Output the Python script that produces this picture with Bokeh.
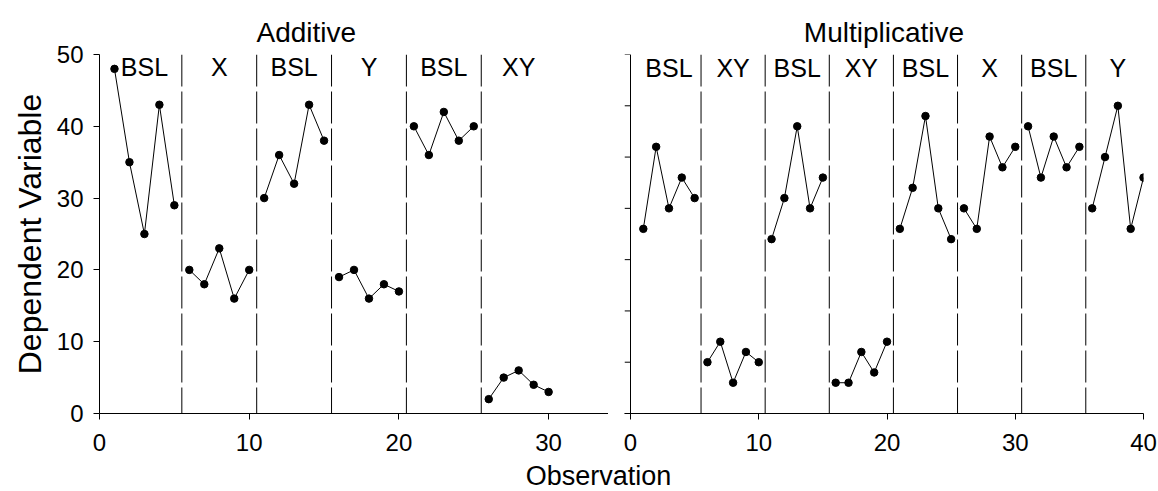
from bokeh.plotting import figure
from bokeh.layouts import row, column
from bokeh.models import Range1d, FixedTicker, Span, Label
from bokeh.embed import file_html
from bokeh.resources import INLINE
from bokeh.core.properties import value

FONT = "Liberation Sans"

# ---- data -------------------------------------------------------------
add_title = "Additive"
add_phases = ["BSL", "X", "BSL", "Y", "BSL", "XY"]
add_values = [
    [48, 35, 25, 43, 29],
    [20, 18, 23, 16, 20],
    [30, 36, 32, 43, 38],
    [19, 20, 16, 18, 17],
    [40, 36, 42, 38, 40],
    [2, 5, 6, 4, 3],
]
add_xticks = [0, 10, 20, 30]
add_yticks = [0, 10, 20, 30, 40, 50]

mult_title = "Multiplicative"
mult_phases = ["BSL", "XY", "BSL", "XY", "BSL", "X", "BSL", "Y"]
mult_values = [
    [18, 26, 20, 23, 21],
    [5, 7, 3, 6, 5],
    [17, 21, 28, 20, 23],
    [3, 3, 6, 4, 7],
    [18, 22, 29, 20, 17],
    [20, 18, 27, 24, 26],
    [28, 23, 27, 24, 26],
    [20, 25, 30, 18, 23],
]
mult_xticks = [0, 10, 20, 30, 40]
mult_yticks = [0, 5, 10, 15, 20, 25, 30, 35]

y_label = "Dependent Variable"
x_label = "Observation"

# ---- styling constants ------------------------------------------------
TICK_PX = 6
H = 452
B_TOP = 45
B_BOTTOM = 47


def style_axes(p, xticks, yticks):
    axes = [p.xaxis[0]] + ([p.yaxis[0]] if len(p.yaxis) else [])
    for ax in axes:
        ax.axis_line_color = "black"
        ax.axis_line_width = 1
        ax.major_tick_line_color = "black"
        ax.major_tick_out = TICK_PX
        ax.major_tick_in = 0
        ax.minor_tick_line_color = None
        ax.major_label_text_font = FONT
        ax.major_label_text_color = "black"
        ax.major_label_text_font_size = "24px"
        ax.major_label_standoff = 14
    p.xaxis[0].ticker = FixedTicker(ticks=xticks)
    if len(p.yaxis):
        p.yaxis[0].ticker = FixedTicker(ticks=yticks)
        p.yaxis[0].major_label_standoff = 10
    p.xgrid.grid_line_color = None
    p.ygrid.grid_line_color = None
    p.outline_line_color = None


def draw_phases(p, phases, values, label_y):
    start = 0
    centers = []
    for i, vals in enumerate(values):
        xs = [start + k + 1 for k in range(len(vals))]
        p.line(xs, vals, line_color="black", line_width=1)
        p.scatter(xs, vals, size=7.5, fill_color="black", line_color="black")
        centers.append(start + (len(vals) + 1) / 2)
        start += len(vals)
        if i < len(values) - 1:
            p.add_layout(Span(location=start + 0.5, dimension="height",
                              line_color="black", line_width=1,
                              line_dash="32 5"))
    p.text(x=centers, y=[label_y] * len(centers), text=phases,
           text_font=value(FONT), text_font_size="25px",
           text_align="center", text_baseline="middle",
           text_color="black")


def set_title(p, text):
    p.title.text = text
    p.title.text_font = FONT
    p.title.text_font_size = "28px"
    p.title.text_font_style = "normal"
    p.title.text_color = "black"
    p.title.standoff = 13


# ---- left panel: Additive --------------------------------------------
p1 = figure(width=600, height=H, output_backend="svg", toolbar_location=None,
            x_range=Range1d(0, 34), y_range=Range1d(0, max(add_yticks)),
            min_border_left=86, min_border_right=0, min_border_top=B_TOP,
            min_border_bottom=B_BOTTOM)
set_title(p1, add_title)
p1.title.align = "left"
p1.title.offset = 157
style_axes(p1, add_xticks, add_yticks)
p1.yaxis[0].axis_label = y_label
p1.yaxis[0].axis_label_text_font = FONT
p1.yaxis[0].axis_label_text_font_size = "32px"
p1.yaxis[0].axis_label_text_font_style = "normal"
p1.yaxis[0].axis_label_text_color = "black"
p1.yaxis[0].axis_label_standoff = 6
draw_phases(p1, add_phases, add_values, 48.3)

# ---- right panel: Multiplicative (unlabelled y axis) -------------------
R_FRAME_W = 519
r_xmax = max(mult_xticks)
r_px_per_unit = (R_FRAME_W - TICK_PX) / r_xmax
r_tick = TICK_PX / r_px_per_unit
p2 = figure(width=549, height=H, output_backend="svg", toolbar_location=None,
            x_range=Range1d(-r_tick, r_xmax),
            y_range=Range1d(0, max(mult_yticks)),
            y_axis_location=None,
            min_border_left=16, min_border_right=14, min_border_top=B_TOP,
            min_border_bottom=B_BOTTOM)
set_title(p2, mult_title)
p2.title.align = "center"
p2.title.offset = 3
style_axes(p2, mult_xticks, mult_yticks)
# y axis line and its tick marks (no tick labels, as in the reference)
p2.segment(x0=[0], y0=[0], x1=[0], y1=[max(mult_yticks)],
           line_color="black", line_width=1)
p2.segment(x0=[-r_tick] * len(mult_yticks), y0=mult_yticks,
           x1=[0] * len(mult_yticks), y1=mult_yticks,
           line_color="black", line_width=1)
draw_phases(p2, mult_phases, mult_values, 33.7)

# ---- shared x-axis title ------------------------------------------------
P3_H = 31
p3 = figure(width=1149, height=P3_H, output_backend="svg",
            toolbar_location=None, x_range=Range1d(0, 1149),
            y_range=Range1d(0, P3_H), x_axis_location=None,
            y_axis_location=None, min_border=0)
p3.min_border_left = 0
p3.min_border_right = 0
p3.min_border_top = 0
p3.min_border_bottom = 0
p3.outline_line_color = None
p3.xgrid.grid_line_color = None
p3.ygrid.grid_line_color = None
p3.add_layout(Label(x=590, y=P3_H / 2, text=x_label, text_font=FONT,
                    text_font_size="27px", text_align="center",
                    text_baseline="middle", text_color="black"))

layout = column(row(p1, p2), p3, margin=(8, 0, -16, 8))
open("out.html", "w").write(file_html(layout, INLINE))
